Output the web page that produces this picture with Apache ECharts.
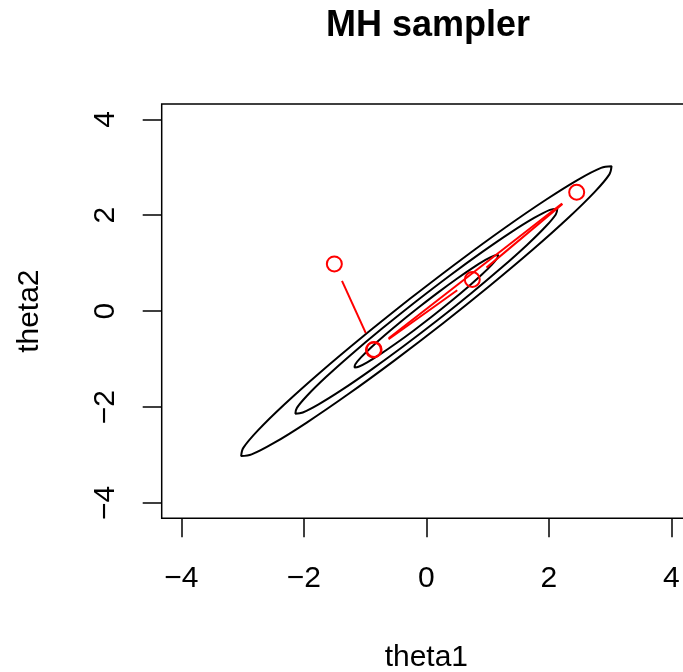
<!DOCTYPE html>
<html>
<head>
<meta charset="utf-8">
<script src="https://cdn.jsdelivr.net/npm/echarts@6/dist/echarts.min.js"></script>
<style>
html,body{margin:0;padding:0;background:#fff;}
#chart{width:683px;height:672px;}
</style>
</head>
<body>
<div id="chart"></div>
<script>
// ---- data ----
const xTicks = [-4, -2, 0, 2, 4];
const yTicks = [-4, -2, 0, 2, 4];

// contour lines (outer, middle, inner)
const outerX = [-0.263,-1.036,-1.739,-2.323,-2.749,-2.988,-3.023,-2.852,-2.487,-1.952,-1.284,-0.529,0.263,1.036,1.739,2.323,2.749,2.988,3.023,2.852,2.487,1.952,1.284,0.529,-0.263];
const outerY = [0.263,-0.529,-1.284,-1.952,-2.487,-2.852,-3.023,-2.988,-2.749,-2.323,-1.739,-1.036,-0.263,0.529,1.284,1.952,2.487,2.852,3.023,2.988,2.749,2.323,1.739,1.036,0.263];
const middleX = [-0.186,-0.733,-1.230,-1.643,-1.944,-2.113,-2.138,-2.017,-1.759,-1.380,-0.908,-0.374,0.186,0.733,1.230,1.643,1.944,2.113,2.138,2.017,1.759,1.380,0.908,0.374,-0.186];
const middleY = [0.186,-0.374,-0.908,-1.380,-1.759,-2.017,-2.138,-2.113,-1.944,-1.643,-1.230,-0.733,-0.186,0.374,0.908,1.380,1.759,2.017,2.138,2.113,1.944,1.643,1.230,0.733,0.186];
const innerX = [-0.102,-0.402,-0.675,-0.902,-1.067,-1.159,-1.173,-1.107,-0.965,-0.757,-0.498,-0.205,0.102,0.402,0.675,0.902,1.067,1.159,1.173,1.107,0.965,0.757,0.498,0.205,-0.102];
const innerY = [0.102,-0.205,-0.498,-0.757,-0.965,-1.107,-1.173,-1.159,-1.067,-0.902,-0.675,-0.402,-0.102,0.205,0.498,0.757,0.965,1.107,1.173,1.159,1.067,0.902,0.675,0.402,0.102];

// MH chain
const chainX = [-1.502, -0.863, 0.750, 2.454, -0.853];
const chainY = [0.984, -0.809, 0.660, 2.480, -0.800];

// ---- chart ----
const FONT = '"Liberation Sans", Arial, Helvetica, sans-serif';
const GAP = 18.5;
const zip = (xs, ys) => xs.map((x, i) => [x, ys[i]]);
const minusFmt = v => String(v).replace('-', '\u2212');

const chart = echarts.init(document.getElementById('chart'), null, {renderer: 'canvas'});

function contour(xs, ys) {
  return {
    type: 'line', data: zip(xs, ys), showSymbol: false, symbol: 'none',
    smooth: 0.35, silent: true, animation: false, z: 2,
    lineStyle: {color: '#000', width: 2}
  };
}

const option = {
  backgroundColor: '#fff',
  animation: false,
  title: {
    text: 'MH sampler', left: 428, top: 8, textAlign: 'center', padding: 0,
    textStyle: {fontFamily: FONT, fontWeight: 'bold', fontSize: 36, color: '#000'}
  },
  grid: {
    left: 161.7, top: 104, width: 529.3, height: 414.3,
    outerBoundsMode: 'none', containLabel: false,
    show: true, borderColor: '#000', borderWidth: 1.5, backgroundColor: 'transparent'
  },
  xAxis: {
    type: 'value', min: -4.32, max: 4.32,
    axisLine: {show: false, onZero: false},
    splitLine: {show: false},
    axisTick: {show: true, customValues: xTicks, length: 19, lineStyle: {color: '#000', width: 1.5}},
    axisLabel: {customValues: xTicks, margin: 45, fontSize: 30, color: '#000', fontFamily: FONT, formatter: minusFmt},
    name: 'theta1', nameLocation: 'middle', nameGap: 124,
    nameTextStyle: {fontSize: 30, color: '#000', fontFamily: FONT}
  },
  yAxis: {
    type: 'value', min: -4.32, max: 4.32,
    axisLine: {show: false, onZero: false},
    splitLine: {show: false},
    axisTick: {show: true, customValues: yTicks, length: 19, lineStyle: {color: '#000', width: 1.5}},
    axisLabel: {customValues: yTicks, rotate: 90, margin: 41, fontSize: 30, color: '#000', fontFamily: FONT, formatter: minusFmt},
    name: 'theta2', nameLocation: 'middle', nameGap: 117, nameRotate: 90,
    nameTextStyle: {fontSize: 30, color: '#000', fontFamily: FONT}
  },
  series: [
    contour(outerX, outerY),
    contour(middleX, middleY),
    contour(innerX, innerY),
    {
      type: 'custom', data: zip(chainX, chainY), z: 3, silent: true, animation: false,
      renderItem: function (params, api) {
        const i = params.dataIndex;
        if (i === 0) return null;
        const p0 = api.coord([chainX[i - 1], chainY[i - 1]]);
        const p1 = api.coord([chainX[i], chainY[i]]);
        const dx = p1[0] - p0[0], dy = p1[1] - p0[1];
        const d = Math.hypot(dx, dy);
        if (d <= 2 * GAP) return null;
        const ux = dx / d, uy = dy / d;
        return {
          type: 'line',
          shape: {x1: p0[0] + ux * GAP, y1: p0[1] + uy * GAP, x2: p1[0] - ux * GAP, y2: p1[1] - uy * GAP},
          style: {stroke: '#ff0000', lineWidth: 2}
        };
      }
    },
    {
      type: 'scatter', data: zip(chainX, chainY), symbol: 'circle', symbolSize: 15, z: 4,
      silent: true, animation: false,
      itemStyle: {color: 'rgba(0,0,0,0)', borderColor: '#ff0000', borderWidth: 2, opacity: 1}
    }
  ]
};
chart.setOption(option);
</script>
</body>
</html>
